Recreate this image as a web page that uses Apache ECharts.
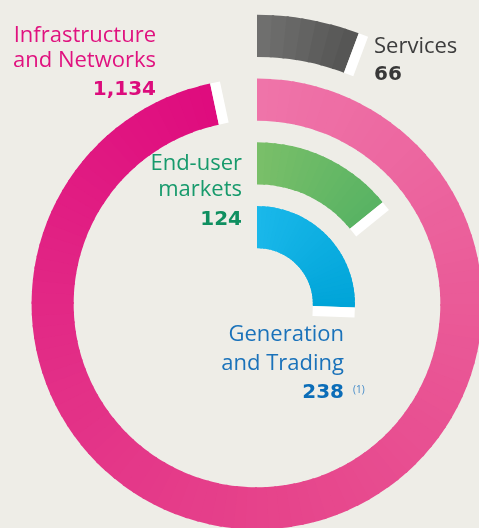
<!DOCTYPE html>
<html>
<head>
<meta charset="utf-8">
<script src="https://cdn.jsdelivr.net/npm/echarts@6/dist/echarts.min.js"></script>
<style>
    html, body { margin: 0; padding: 0; background: #eeede7; }
    #main { width: 479px; height: 528px; }
</style>
</head>
<body>
<div id="main"></div>
<script>
// 业务板块, 由内圈到外圈
const segments = ['Generation and Trading', 'End-user markets', 'Infrastructure and Networks', 'Services'];
const segmentValues = [238, 124, 1134, 66];
// 每个圆弧从12点方向顺时针扫过的角度(度)
const arcSweeps = [92, 51, 348, 20.6];
// 标签文字分行
const nameLines = [['Generation', 'and Trading'], ['End-user', 'markets'], ['Infrastructure', 'and Networks'], ['Services']];
const footnotes = ['(1)', '', '', ''];

// 圆环颜色(沿弧线渐变)
const ringColors = [
    ['#1ab8ea', '#00a4d8'],
    ['#7abf69', '#58b363'],
    ['#ef74a9', '#ea5b98', '#e6448b', '#e22b86', '#df0b7e'],
    ['#717170', '#545453']
];
const nameColors = ['#1a72ba', '#179a6c', '#e0127f', '#3d3d3d'];
const numColors = ['#0b6db8', '#0f8f60', '#dc0c7c', '#383838'];
// 标签位置: 对齐x, 各行基线y, 数字基线y
const labelLayout = [
    { x: 344, align: 'right', lines: [343, 372], num: 400 },
    { x: 242, align: 'right', lines: [172, 198], num: 227 },
    { x: 156, align: 'right', lines: [44, 69], num: 97 },
    { x: 374, align: 'left', lines: [55], num: 82 }
];

const chart = echarts.init(document.getElementById('main'));

// 画一段圆弧: 分成小扇形实现渐变, 末端加白色小块
function renderRing(params, api) {
    const idx = api.value(0);
    const sweep = api.value(1);
    const cs = params.coordSys;
    const start = api.coord([idx, 0]);
    const end = api.coord([idx, sweep]);
    const half = api.size([1, 0])[0] * 0.33;
    const r0 = start[2] - half;
    const r = start[2] + half;
    const a0 = -start[3];
    const a1 = -end[3];
    const colors = ringColors[idx];
    const n = Math.max(2, Math.ceil(sweep / 3));
    const step = (a1 - a0) / n;
    const overlap = 2 / r0; // 相邻小扇形重叠约2px, 避免接缝
    const children = [];
    for (let i = 0; i < n; i++) {
        children.push({
            type: 'sector',
            shape: {
                cx: cs.cx, cy: cs.cy, r0: r0, r: r,
                startAngle: a0 + i * step,
                endAngle: a0 + (i + 1) * step + (i < n - 1 ? overlap : 0),
                clockwise: true
            },
            style: { fill: echarts.color.lerp((i + 0.5) / n, colors) }
        });
    }
    const w = 10;
    const ux = Math.cos(a1), uy = Math.sin(a1);
    const tx = -uy, ty = ux;
    children.push({
        type: 'polygon',
        shape: {
            points: [
                [cs.cx + r0 * ux, cs.cy + r0 * uy],
                [cs.cx + r * ux, cs.cy + r * uy],
                [cs.cx + r * ux + w * tx, cs.cy + r * uy + w * ty],
                [cs.cx + r0 * ux + w * tx, cs.cy + r0 * uy + w * ty]
            ]
        },
        style: { fill: '#ffffff' }
    });
    return { type: 'group', children: children };
}

// 文字标签
function buildLabels() {
    const els = [];
    segments.forEach(function(name, i) {
        const lay = labelLayout[i];
        nameLines[i].forEach(function(line, j) {
            els.push({
                type: 'text', x: lay.x, y: lay.lines[j] - 8.5, silent: true,
                style: {
                    text: line, font: '22px "Open Sans"', fill: nameColors[i],
                    align: lay.align, verticalAlign: 'middle'
                }
            });
        });
        els.push({
            type: 'text', x: lay.x, y: lay.num - 7, silent: true,
            style: {
                text: segmentValues[i].toLocaleString('en-US'),
                font: 'bold 20px "DejaVu Sans"', fill: numColors[i],
                align: lay.align, verticalAlign: 'middle'
            }
        });
        if (footnotes[i]) {
            els.push({
                type: 'text', x: lay.x + 9, y: lay.num - 10, silent: true,
                style: {
                    text: footnotes[i], font: '10px "Open Sans"', fill: '#3f88c8',
                    align: 'left', verticalAlign: 'middle'
                }
            });
        }
    });
    return els;
}

chart.setOption({
    backgroundColor: '#eeede7',
    animation: false,
    polar: { center: [257, 304], radius: [45, 300] },
    angleAxis: { type: 'value', min: 0, max: 360, startAngle: 90, clockwise: true, show: false },
    radiusAxis: { type: 'category', data: segments, show: false },
    series: [{
        type: 'custom',
        coordinateSystem: 'polar',
        silent: true,
        encode: { radius: 0, angle: 1 },
        renderItem: renderRing,
        data: arcSweeps.map(function(s, i) { return [i, s]; })
    }],
    graphic: buildLabels()
});
</script>
</body>
</html>
